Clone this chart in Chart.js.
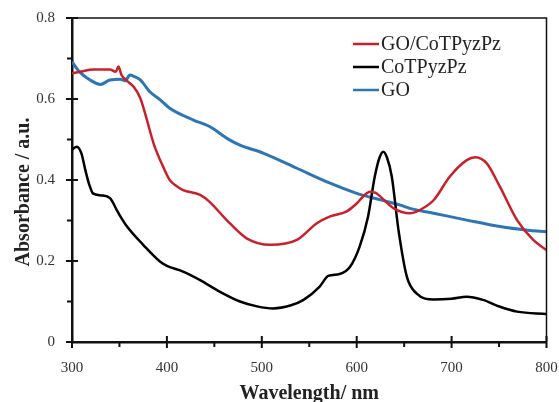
<!DOCTYPE html>
<html>
<head>
<meta charset="utf-8">
<script src="https://cdn.jsdelivr.net/npm/chart.js@4"></script>
<style>
  body { margin: 0; background: #fff; }
  #chart { display: block; }
</style>
</head>
<body>
<canvas id="chart" width="559" height="402"></canvas>
<script>
// GO/CoTPyzPz
const goCoWl  = [300, 310, 322, 340, 346, 349, 352, 358, 365, 372, 379, 386, 396, 403, 410, 417, 435, 445, 463, 484, 509, 537, 558, 572, 589, 600, 607, 614, 620, 625, 639, 656, 663, 681, 698, 716, 725, 737, 751, 769, 786, 800]
const goCoAbs = [0.663, 0.668, 0.673, 0.673, 0.667, 0.68, 0.66, 0.645, 0.63, 0.602, 0.548, 0.49, 0.433, 0.40, 0.385, 0.375, 0.363, 0.346, 0.301, 0.256, 0.24, 0.252, 0.293, 0.31, 0.322, 0.342, 0.36, 0.371, 0.368, 0.359, 0.33, 0.318, 0.322, 0.35, 0.408, 0.449, 0.456, 0.441, 0.383, 0.301, 0.252, 0.227]

// CoTPyzPz
const coWl  = [300, 305, 310, 314, 318, 322, 331, 340, 349, 358, 375, 393, 400, 417, 435, 456, 477, 495, 512, 530, 544, 561, 570, 582, 593, 603, 612, 619, 624, 628, 632, 637, 644, 653, 663, 681, 700, 716, 733, 751, 769, 800]
const coAbs = [0.475, 0.482, 0.465, 0.425, 0.39, 0.367, 0.362, 0.355, 0.318, 0.285, 0.24, 0.198, 0.188, 0.174, 0.153, 0.124, 0.100, 0.088, 0.083, 0.090, 0.104, 0.137, 0.163, 0.168, 0.186, 0.235, 0.31, 0.408, 0.455, 0.47, 0.455, 0.408, 0.277, 0.160, 0.120, 0.105, 0.107, 0.112, 0.104, 0.087, 0.075, 0.069]

// GO
const goWl  = [300, 308, 319, 330, 340, 351, 356, 361, 366, 372, 382, 393, 403, 428, 445, 466, 477, 502, 537, 572, 600, 625, 646, 656, 681, 716, 751, 780, 800]
const goAbs = [0.692, 0.667, 0.647, 0.636, 0.647, 0.649, 0.645, 0.659, 0.655, 0.647, 0.618, 0.598, 0.577, 0.548, 0.532, 0.499, 0.486, 0.466, 0.429, 0.392, 0.367, 0.351, 0.338, 0.330, 0.318, 0.301, 0.285, 0.276, 0.272]

const seriesNames = ['GO/CoTPyzPz', 'CoTPyzPz', 'GO']
const seriesColors = ['#c9212b', '#000000', '#2e75b6']
const xTicks = [300, 400, 500, 600, 700, 800]
const yTicks = [0, 0.2, 0.4, 0.6, 0.8]
const xTitle = 'Wavelength/ nm'
const yTitle = 'Absorbance / a.u.'

const SERIF = '"Liberation Serif", "Times New Roman", serif'

function pts(xs, ys){
    return xs.map((x, i) => ({x: x, y: ys[i]}))
}

// frame, tick marks, axis titles and the legend box
const decor = {
    id: 'decor',
    afterDraw(chart){
        const ctx = chart.ctx
        const a = chart.chartArea
        const xs = chart.scales.x
        const ys = chart.scales.y
        ctx.save()
        ctx.strokeStyle = '#111'
        ctx.lineWidth = 1.5
        ctx.beginPath()
        ctx.moveTo(a.left, a.top); ctx.lineTo(a.right, a.top); ctx.lineTo(a.right, a.bottom)
        ctx.stroke()

        ctx.lineWidth = 2
        ctx.beginPath()
        for(let v = 300; v <= 800; v += 50){
            const px = xs.getPixelForValue(v)
            const major = v % 100 === 0
            ctx.moveTo(px, a.bottom + (major ? 6 : 5))
            ctx.lineTo(px, a.bottom - (major ? 6 : 0))
        }
        for(let i = 0; i <= 8; i++){
            const py = ys.getPixelForValue(i / 10)
            const major = i % 2 === 0
            ctx.moveTo(a.left - (major ? 6 : 5), py)
            ctx.lineTo(a.left + (major ? 6 : 0), py)
        }
        ctx.stroke()

        ctx.fillStyle = '#222'
        ctx.font = 'bold 20px ' + SERIF
        ctx.textAlign = 'center'
        ctx.textBaseline = 'alphabetic'
        ctx.fillText(xTitle, (a.left + a.right) / 2, 399)
        ctx.save()
        ctx.translate(29, 192)
        ctx.rotate(-Math.PI / 2)
        ctx.fillText(yTitle, 0, 0)
        ctx.restore()

        ctx.font = '20px ' + SERIF
        ctx.textAlign = 'left'
        ctx.textBaseline = 'middle'
        chart.data.datasets.forEach((ds, i) => {
            const y = 44 + i * 23
            ctx.strokeStyle = ds.borderColor
            ctx.lineWidth = 2.5
            ctx.beginPath()
            ctx.moveTo(353, y); ctx.lineTo(379, y)
            ctx.stroke()
            ctx.fillStyle = '#222'
            ctx.fillText(ds.label, 381, y + 1)
        })
        ctx.restore()
    }
}

Chart.defaults.font.family = SERIF
Chart.defaults.color = '#333'

new Chart('chart', {
    type: 'line',
    data: {
        datasets: [
            {label: seriesNames[0], data: pts(goCoWl, goCoAbs), borderColor: seriesColors[0], borderWidth: 2.5},
            {label: seriesNames[1], data: pts(coWl, coAbs), borderColor: seriesColors[1], borderWidth: 2.5},
            {label: seriesNames[2], data: pts(goWl, goAbs), borderColor: seriesColors[2], borderWidth: 3}
        ]
    },
    options: {
        responsive: false,
        animation: false,
        devicePixelRatio: 1,
        elements: {
            point: {radius: 0},
            line: {cubicInterpolationMode: 'monotone', fill: false}
        },
        layout: {padding: {top: 18, right: 12.5, left: 0, bottom: 0}},
        plugins: {legend: {display: false}, tooltip: {enabled: false}},
        scales: {
            x: {
                type: 'linear', min: 300, max: 800,
                afterFit: s => { s.height = 60; s.paddingLeft = 0; s.paddingRight = 0 },
                afterBuildTicks: s => { s.ticks = xTicks.map(v => ({value: v})) },
                grid: {display: false, drawTicks: false},
                border: {display: true, color: '#111', width: 2.5},
                ticks: {font: {size: 15}, padding: 17, color: '#333'}
            },
            y: {
                min: 0, max: 0.8,
                afterFit: s => { s.width = 72; s.paddingTop = 0; s.paddingBottom = 0 },
                afterBuildTicks: s => { s.ticks = yTicks.map(v => ({value: v})) },
                grid: {display: false, drawTicks: false},
                border: {display: true, color: '#111', width: 2.5},
                ticks: {font: {size: 15}, padding: 17, color: '#333',
                    callback: v => v === 0 ? '0' : v.toFixed(1)}
            }
        }
    },
    plugins: [decor]
})
</script>
</body>
</html>
